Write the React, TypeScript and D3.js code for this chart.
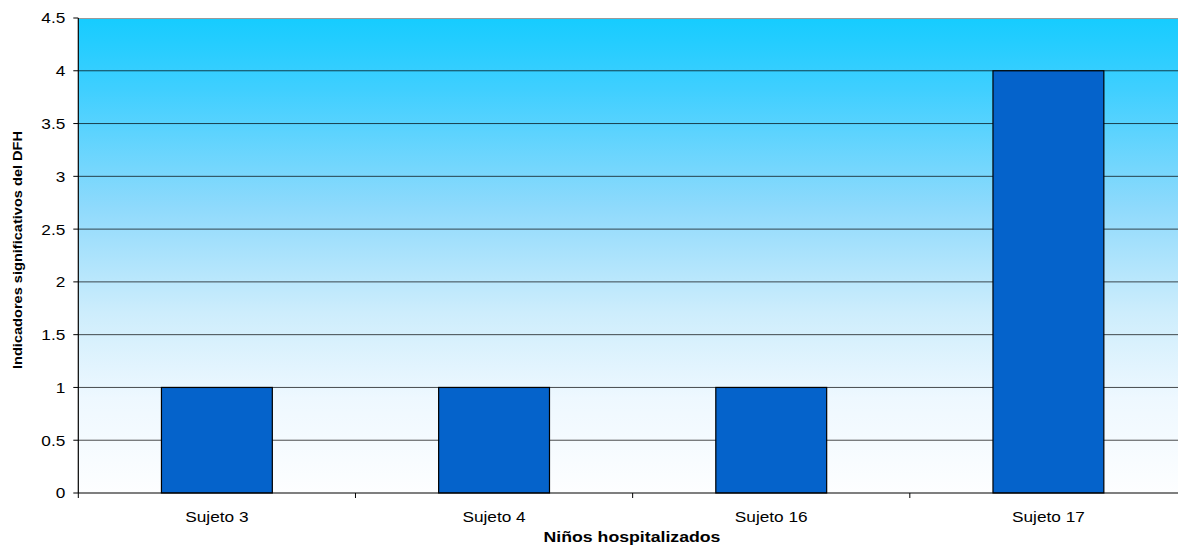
import React from "react";
import * as d3 from "d3";

const categories = ["Sujeto 3", "Sujeto 4", "Sujeto 16", "Sujeto 17"];
const values = [1, 1, 1, 4];
const yTicks = [0, 0.5, 1, 1.5, 2, 2.5, 3, 3.5, 4, 4.5];
const xTitle = "Niños hospitalizados";
const yTitle = "Indicadores significativos del DFH";

const W = 1178;
const H = 545;
const M = { left: 78.3, top: 18, right: 1187, bottom: 493 };
const SX = 1.15;

export default function App() {
  const x = d3
    .scaleBand<string>()
    .domain(categories)
    .range([M.left, M.right])
    .paddingInner(0.6)
    .paddingOuter(0.3);
  const band = (M.right - M.left) / categories.length;
  const y = d3.scaleLinear().domain([0, 4.5]).range([M.bottom, M.top]);
  const font = "'Liberation Sans', Arial, sans-serif";
  const boundaries = d3.range(categories.length).map((i) => M.left + i * band);

  return (
    <svg width={W} height={H} style={{ position: "absolute", left: 0, top: 0 }} fontFamily={font}>
      <defs>
        <linearGradient id="bg" x1="0" y1="0" x2="0" y2="1">
          <stop offset="0" stopColor="#16CCFF" />
          <stop offset="0.15" stopColor="#3FCFFF" />
          <stop offset="0.4" stopColor="#8FDAFC" />
          <stop offset="0.62" stopColor="#CDEDFC" />
          <stop offset="0.8" stopColor="#EEF8FF" />
          <stop offset="1" stopColor="#FDFEFF" />
        </linearGradient>
      </defs>
      <rect x={M.left} y={M.top} width={M.right - M.left} height={M.bottom - M.top} fill="url(#bg)" />
      <line x1={M.left} x2={M.right} y1={M.top + 0.5} y2={M.top + 0.5} stroke="#9a9a9a" strokeWidth={1.2} />
      {yTicks.filter((t) => t > 0 && t < 4.5).map((t) => (
        <line key={t} x1={M.left} x2={M.right} y1={y(t)} y2={y(t)} stroke="#000" strokeOpacity={0.7} strokeWidth={1} />
      ))}
      {categories.map((c, i) => (
        <rect
          key={c}
          x={x(c)}
          y={y(values[i])}
          width={x.bandwidth()}
          height={y(0) - y(values[i])}
          fill="#0563CB"
          stroke="#000"
          strokeWidth={1.2}
        />
      ))}
      <line x1={M.left} x2={M.left} y1={M.top} y2={M.bottom} stroke="#000" strokeWidth={1.2} />
      <line x1={M.left} x2={M.right} y1={M.bottom} y2={M.bottom} stroke="#000" strokeWidth={1.2} />
      {yTicks.map((t) => (
        <g key={t}>
          <line x1={M.left - 5} x2={M.left} y1={y(t)} y2={y(t)} stroke="#000" />
          <text
            transform={`translate(${M.left - 13},${y(t)}) scale(${SX},1)`}
            dy="0.36em"
            textAnchor="end"
            fontSize={15}
            fill="#000"
          >
            {t}
          </text>
        </g>
      ))}
      {boundaries.map((b) => (
        <line key={b} x1={b} x2={b} y1={M.bottom} y2={M.bottom + 5} stroke="#000" />
      ))}
      {categories.map((c) => (
        <text
          key={c}
          transform={`translate(${x(c)! + x.bandwidth() / 2},522) scale(${SX},1)`}
          textAnchor="middle"
          fontSize={15}
          fill="#000"
        >
          {c}
        </text>
      ))}
      <text
        transform={`translate(632,542) scale(1.18,1)`}
        textAnchor="middle"
        fontSize={15}
        fontWeight="bold"
        fill="#000"
      >
        {xTitle}
      </text>
      <text
        transform={`translate(21.5,250) rotate(-90)`}
        textAnchor="middle"
        fontSize={12}
        fontWeight="bold"
        textLength={238}
        lengthAdjust="spacingAndGlyphs"
        fill="#000"
      >
        {yTitle}
      </text>
    </svg>
  );
}
